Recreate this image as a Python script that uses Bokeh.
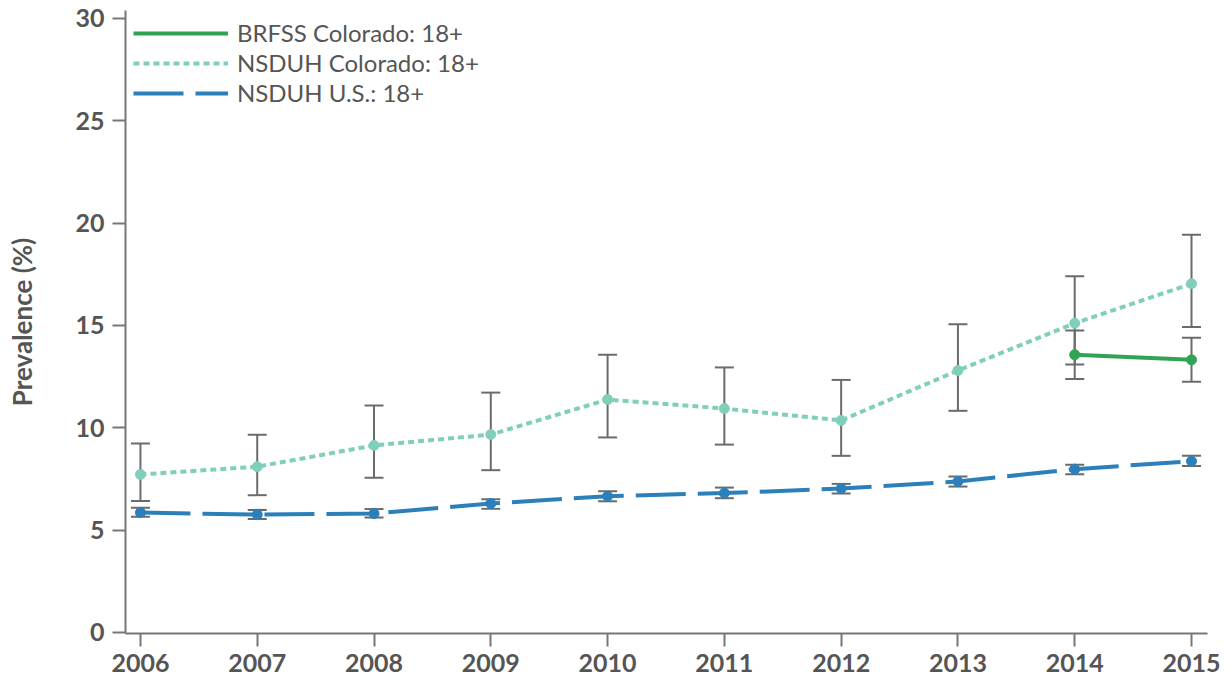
from bokeh.plotting import figure
from bokeh.models import ColumnDataSource, Whisker, TeeHead, Range1d, FixedTicker
from bokeh.embed import file_html
from bokeh.resources import INLINE

years = [2006, 2007, 2008, 2009, 2010, 2011, 2012, 2013, 2014, 2015]

nsduh_co = [7.72, 8.10, 9.14, 9.67, 11.38, 10.94, 10.36, 12.80, 15.11, 17.04]
nsduh_co_hi = [9.23, 9.66, 11.09, 11.72, 13.57, 12.95, 12.34, 15.06, 17.41, 19.43]
nsduh_co_lo = [6.43, 6.71, 7.56, 7.93, 9.53, 9.18, 8.63, 10.83, 13.09, 14.92]

nsduh_us = [5.86, 5.76, 5.81, 6.30, 6.66, 6.81, 7.03, 7.38, 7.98, 8.37]
nsduh_us_hi = [6.09, 5.99, 6.03, 6.51, 6.90, 7.08, 7.26, 7.62, 8.19, 8.63]
nsduh_us_lo = [5.65, 5.55, 5.62, 6.04, 6.41, 6.56, 6.79, 7.13, 7.73, 8.14]

brfss_years = [2014, 2015]
brfss_co = [13.57, 13.32]
brfss_co_hi = [14.75, 14.40]
brfss_co_lo = [12.39, 12.25]

y_ticks = [0, 5, 10, 15, 20, 25, 30]

GREEN = "#31a354"
TEAL = "#80cfbb"
BLUE = "#2b7fbb"
BAR = "#6b6b6b"
AXIS = "#777777"
TXT = "#555555"
FONT = "Lato"

p = figure(width=1221, height=677, output_backend="svg", toolbar_location=None,
           x_range=Range1d(2005.872, 2015.137), y_range=Range1d(-0.05, 30.39),
           min_border_left=125, min_border_right=14, min_border_top=10, min_border_bottom=44)
p.outline_line_color = None
p.xgrid.visible = False
p.ygrid.visible = False

src_co = ColumnDataSource(dict(x=years, y=nsduh_co, hi=nsduh_co_hi, lo=nsduh_co_lo))
src_us = ColumnDataSource(dict(x=years, y=nsduh_us, hi=nsduh_us_hi, lo=nsduh_us_lo))
src_br = ColumnDataSource(dict(x=brfss_years, y=brfss_co, hi=brfss_co_hi, lo=brfss_co_lo))

for src in (src_co, src_us, src_br):
    w = Whisker(base="x", upper="hi", lower="lo", source=src, line_color=BAR, line_width=2,
                upper_head=TeeHead(size=19, line_color=BAR, line_width=2),
                lower_head=TeeHead(size=19, line_color=BAR, line_width=2),
                level="underlay")
    p.add_layout(w)

p.line("x", "y", source=src_us, color=BLUE, line_width=4, line_dash="50 12",
       legend_label="NSDUH U.S.: 18+")
p.scatter("x", "y", source=src_us, color=BLUE, size=10)

p.line("x", "y", source=src_co, color=TEAL, line_width=4, line_dash="6 4",
       legend_label="NSDUH Colorado: 18+")
p.scatter("x", "y", source=src_co, color=TEAL, size=10)

p.line("x", "y", source=src_br, color=GREEN, line_width=4,
       legend_label="BRFSS Colorado: 18+")
p.scatter("x", "y", source=src_br, color=GREEN, size=10)

items = p.legend[0].items
p.legend[0].items = [items[2], items[1], items[0]]
lg = p.legend[0]
lg.location = "top_left"
lg.margin = 0
lg.padding = 8
lg.spacing = 1
lg.glyph_width = 95
lg.glyph_height = 26
lg.label_height = 26
lg.label_standoff = 9
lg.background_fill_alpha = 0
lg.border_line_alpha = 0
lg.label_text_font = FONT
lg.label_text_font_size = "24px"
lg.label_text_color = TXT

for ax in (p.xaxis[0], p.yaxis[0]):
    ax.axis_line_color = AXIS
    ax.axis_line_width = 2
    ax.major_tick_line_color = AXIS
    ax.major_tick_line_width = 2
    ax.major_tick_in = 0
    ax.major_tick_out = 13
    ax.minor_tick_line_color = None
    ax.major_label_text_font = FONT
    ax.major_label_text_font_style = "bold"
    ax.major_label_text_font_size = "25px"
    ax.major_label_text_color = TXT

p.xaxis.ticker = FixedTicker(ticks=years)
p.xaxis.major_label_standoff = 7
p.yaxis.ticker = FixedTicker(ticks=y_ticks)
p.yaxis.major_label_standoff = 8
p.yaxis.axis_label = "Prevalence (%)"
p.yaxis.axis_label_text_font = FONT
p.yaxis.axis_label_text_font_style = "bold"
p.yaxis.axis_label_text_font_size = "26px"
p.yaxis.axis_label_text_color = TXT
p.yaxis.axis_label_standoff = 34

open("out.html", "w").write(file_html(p, INLINE))
